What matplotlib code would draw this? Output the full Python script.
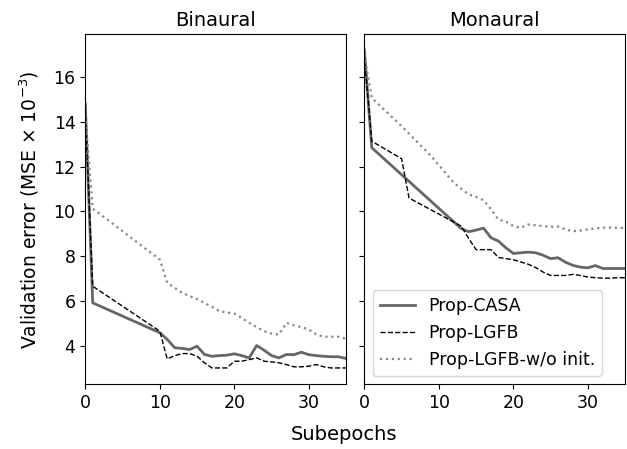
import matplotlib
matplotlib.use("Agg")
import matplotlib.pyplot as plt

# Binaural panel
bin_x_casa = [0, 1, 10, 11, 12, 13, 14, 15, 16, 17, 18, 19, 20, 21, 22, 23, 24, 25, 26, 27, 28, 29, 30, 31, 32, 33, 34, 35]
bin_casa = [14.8, 5.93, 4.6, 4.3, 3.93, 3.9, 3.85, 4.0, 3.63, 3.55, 3.58, 3.6, 3.66, 3.58, 3.48, 4.03, 3.82, 3.58, 3.48, 3.63, 3.62, 3.73, 3.62, 3.58, 3.55, 3.53, 3.53, 3.45]
bin_x_lgfb = [0, 1, 10, 11, 12, 13, 14, 15, 16, 17, 18, 19, 20, 21, 22, 23, 24, 25, 26, 27, 28, 29, 30, 31, 32, 33, 34, 35]
bin_lgfb = [14.5, 6.67, 4.67, 3.43, 3.58, 3.67, 3.67, 3.55, 3.26, 3.03, 3.03, 3.03, 3.33, 3.33, 3.4, 3.48, 3.33, 3.3, 3.26, 3.18, 3.08, 3.08, 3.11, 3.18, 3.08, 3.03, 3.03, 3.03]
bin_x_noinit = [0, 1, 10, 11, 12, 13, 14, 15, 16, 17, 18, 19, 20, 21, 22, 23, 24, 25, 26, 27, 28, 29, 30, 31, 32, 33, 34, 35]
bin_noinit = [14.3, 10.13, 7.86, 6.82, 6.6, 6.38, 6.23, 6.1, 5.93, 5.75, 5.56, 5.5, 5.45, 5.26, 5.04, 4.85, 4.67, 4.56, 4.52, 5.04, 4.93, 4.85, 4.74, 4.52, 4.42, 4.42, 4.42, 4.33]

# Monaural panel
mon_x_casa = [0, 1, 13, 14, 15, 16, 17, 18, 19, 20, 21, 22, 23, 24, 25, 26, 27, 28, 29, 30, 31, 32, 33, 34, 35]
mon_casa = [17.2, 12.84, 9.24, 9.1, 9.17, 9.26, 8.83, 8.68, 8.38, 8.13, 8.16, 8.19, 8.16, 8.05, 7.9, 7.94, 7.74, 7.6, 7.52, 7.49, 7.59, 7.46, 7.46, 7.46, 7.46]
mon_x_lgfb = [0, 1, 5, 6, 13, 14, 15, 16, 17, 18, 19, 20, 21, 22, 23, 24, 25, 26, 27, 28, 29, 30, 31, 32, 33, 34, 35]
mon_lgfb = [16.9, 13.13, 12.35, 10.6, 9.35, 8.8, 8.3, 8.3, 8.3, 7.95, 7.9, 7.85, 7.75, 7.65, 7.5, 7.3, 7.15, 7.15, 7.15, 7.2, 7.15, 7.08, 7.05, 7.03, 7.03, 7.05, 7.05]
mon_x_noinit = [0, 1, 5, 9, 12, 14, 15, 16, 17, 18, 19, 20, 21, 22, 23, 24, 25, 26, 27, 28, 29, 30, 31, 32, 33, 34, 35]
mon_noinit = [17.0, 15.06, 13.8, 12.46, 11.28, 10.76, 10.65, 10.5, 10.1, 9.64, 9.55, 9.35, 9.27, 9.42, 9.38, 9.35, 9.32, 9.33, 9.2, 9.12, 9.15, 9.2, 9.25, 9.28, 9.29, 9.27, 9.27]

labels = ["Prop-CASA", "Prop-LGFB", "Prop-LGFB-w/o init."]

fig, axes = plt.subplots(1, 2, figsize=(6.27, 4.49), dpi=100, sharey=True)
fig.subplots_adjust(left=0.136, right=0.997, top=0.924, bottom=0.144, wspace=0.07)

panels = [
    ("Binaural", bin_x_casa, bin_casa, bin_x_lgfb, bin_lgfb, bin_x_noinit, bin_noinit),
    ("Monaural", mon_x_casa, mon_casa, mon_x_lgfb, mon_lgfb, mon_x_noinit, mon_noinit),
]

for ax, (title, xc, yc, xl, yl, xn, yn) in zip(axes, panels):
    ax.plot(xc, yc, color="#666666", linestyle="-", linewidth=2, label=labels[0])
    ax.plot(xl, yl, color="black", linestyle="--", linewidth=1, label=labels[1])
    ax.plot(xn, yn, color="#888888", linestyle=":", linewidth=1.6, label=labels[2])
    ax.set_title(title, fontsize=14)
    ax.set_xlim(0, 35)
    ax.set_ylim(2.3, 17.9)
    ax.set_xticks([0, 10, 20, 30])
    ax.set_yticks([4, 6, 8, 10, 12, 14, 16])
    ax.tick_params(labelsize=12.5)

axes[0].set_ylabel(r"Validation error (MSE $\times$ 10$^{-3}$)", fontsize=13.5, labelpad=9)
axes[1].legend(loc="lower left", fontsize=12.5)
fig.text(0.549, 0.02, "Subepochs", ha="center", fontsize=14)

plt.savefig("out.png", dpi=100)
plt.close()
